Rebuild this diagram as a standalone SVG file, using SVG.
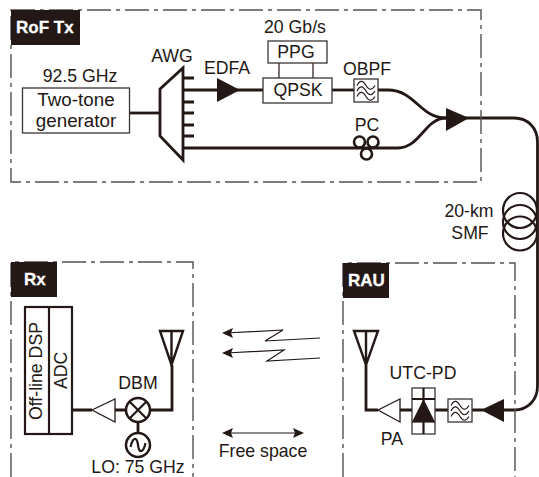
<svg xmlns="http://www.w3.org/2000/svg" width="539" height="477" viewBox="0 0 539 477">
<style>
text{font-family:"Liberation Sans",Arial,sans-serif;font-size:17.7px;fill:#231815}
.c{text-anchor:middle}
.big{font-size:18.8px}
.tag{font-weight:bold;font-size:17px;fill:#fff;stroke:#fff;stroke-width:.3}
.frame{fill:none;stroke:#555050;stroke-width:1.4;stroke-dasharray:24 5 4 5}
.box{fill:#fff;stroke:#3a3533;stroke-width:1.3}
.thick{fill:none;stroke:#231815;stroke-width:2.8}
.mid{fill:none;stroke:#231815;stroke-width:2.2}
.thin{fill:none;stroke:#231815;stroke-width:1.2}
.solid{fill:#231815;stroke:none}
.open{fill:#fff;stroke:#231815;stroke-width:1.3}
.ant{fill:none;stroke:#231815;stroke-width:2.4}
.wave{fill:none;stroke:#231815;stroke-width:1.1}
.ring{fill:none;stroke:#231815;stroke-width:2.6}
.node{fill:#fff;stroke:#231815;stroke-width:2.5}
</style>
<defs>
<g id="filter"><rect x="0" y="0" width="24" height="23" fill="#fff" stroke="#3a3533" stroke-width="1.3"/>
<path class="wave" d="M3,6.500c3,-6 6,-5 9,0s6,5 9,0"/><path class="wave" d="M3,12c3,-6 6,-5 9,0s6,5 9,0"/><path class="wave" d="M3,17.500c3,-6 6,-5 9,0s6,5 9,0"/></g>
<path id="head" class="solid" d="M0,0L11,-5L9,0L11,5Z"/>
</defs>
<g id="connectors">
<path class="thick" d="M129,113H160"/>
<path class="thick" d="M183,78H194M183,102H194M183,113H194M183,125H194M183,136H194"/>
<path class="thick" d="M183,90H263"/>
<path class="thick" d="M183,148H398C420,148 425,118 446,118"/>
<path class="thick" d="M332,90H354"/>
<path class="thick" d="M378,90H388C415,90 420,118 446,118"/>
<path class="thick" d="M465,118H514C528,118 537.500,128 537.500,142V386C537.500,400 528,410 514,410H500"/>
<path class="thin" d="M279,63V78M313,63V78"/>
<path class="thick" d="M472,410H484M435,410H448M400,410H412"/>
<path class="thick" d="M366,365V410H378"/>
<path class="thick" d="M70,410H92M115,410H126M150,410H172V365M138,422V433"/>
</g>
<g id="rof-tx"><rect class="frame" x="11" y="10" width="470" height="172"/><rect class="solid" x="11" y="10" width="69" height="35"/><text class="tag" x="16" y="33">RoF Tx</text></g>
<g id="rx"><path class="frame" d="M11,477V262H193V477"/><rect class="solid" x="11" y="262" width="46" height="35"/><text class="tag" x="24" y="285">Rx</text></g>
<g id="rau"><path class="frame" d="M343,477V263H515V477"/><rect class="solid" x="343" y="263" width="46" height="35"/><text class="tag" x="348" y="286">RAU</text></g>
<g id="two-tone"><rect class="box" x="22.500" y="88" width="107" height="45"/><text class="c big" x="76" y="106">Two-tone</text><text class="c big" x="76" y="127">generator</text><text class="c" x="80" y="82">92.5 GHz</text></g>
<g id="awg"><path class="thick" d="M160,89L183,68V160L160,136Z"/><text class="c" x="172" y="62">AWG</text></g>
<g id="edfa"><path class="solid" d="M217,78V102L240,90Z"/><text class="c" x="227" y="74">EDFA</text></g>
<g id="ppg"><rect class="box" x="268" y="41" width="59" height="22"/><text class="c" x="296" y="58">PPG</text><text class="c" x="295" y="33">20 Gb/s</text></g>
<g id="qpsk"><rect class="box" x="263" y="78" width="69" height="25"/><text class="c" x="298" y="96">QPSK</text></g>
<g id="obpf"><use href="#filter" x="354" y="79"/><text class="c" x="367" y="75">OBPF</text></g>
<g id="pc"><circle class="ring" cx="359.500" cy="142" r="5.500"/><circle class="ring" cx="373" cy="142" r="5.500"/><circle class="ring" cx="366.500" cy="154" r="5.500"/><text class="c" x="367" y="131">PC</text></g>
<g id="combiner"><path class="solid" d="M446,108V131L469,118Z"/></g>
<g id="smf"><ellipse class="mid" cx="520" cy="210.500" rx="17" ry="17.500"/><ellipse class="mid" cx="520" cy="222" rx="17" ry="17"/><ellipse class="mid" cx="520" cy="233.500" rx="17" ry="17"/><text class="c" x="469" y="217">20-km</text><text class="c" x="470" y="239">SMF</text></g>
<g id="rau-amp"><path class="solid" d="M504,399V422L481,410Z"/></g>
<g id="rau-filter"><use href="#filter" x="448" y="399"/></g>
<g id="utc-pd"><rect class="box" x="412" y="388" width="23" height="46"/><path class="thin" d="M412,422H435"/><path class="mid" d="M423.500,388V434M412,399H435"/><path class="solid" d="M412,422H435L423.500,399Z"/><text class="c" x="423" y="379">UTC-PD</text></g>
<g id="pa"><path class="open" d="M378,410L400,399V422Z"/><text class="c" x="392" y="445">PA</text></g>
<g id="rau-antenna"><path class="ant" d="M354,331H378L366,365ZM366,331V365"/></g>
<g id="rx-antenna"><path class="ant" d="M160,331H183L171.500,365ZM171.500,331V365"/></g>
<g id="adc-dsp"><rect x="25" y="307" width="47" height="127" fill="#fff" stroke="#231815" stroke-width="2.200"/><path class="mid" d="M49,307V434"/><text transform="translate(42,420) rotate(-90)">Off-line DSP</text><text transform="translate(67,389) rotate(-90)">ADC</text></g>
<g id="rx-amp"><path class="open" d="M92,410L115,399V422Z"/></g>
<g id="dbm"><circle class="node" cx="138" cy="410" r="12"/><path class="mid" d="M129.500,401.500L146.500,418.500M146.500,401.500L129.500,418.500"/><text class="c" x="138" y="389">DBM</text></g>
<g id="lo"><circle class="node" cx="138" cy="445" r="12"/><path class="mid" d="M130.500,447C133,436 137,437 138,445S143,454 145.500,443"/><text class="c" x="138" y="472.500">LO: 75 GHz</text></g>
<g id="free-space"><path class="thin" d="M225,433H302"/><use href="#head" x="222" y="433"/><use href="#head" transform="translate(304,433) scale(-1,1)"/><text class="c" x="263" y="457">Free space</text></g>
<g id="wireless"><path class="thin" d="M320,338L265,341L283,330L226,333"/><use href="#head" x="222" y="333"/><path class="thin" d="M320,358L267,361L284,350L226,353"/><use href="#head" x="222" y="353"/></g>
</svg>
